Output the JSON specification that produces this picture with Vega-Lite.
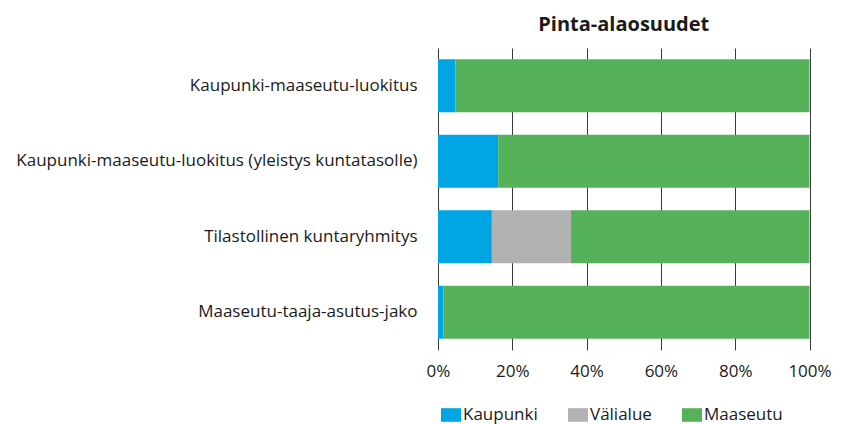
{
  "$schema": "https://vega.github.io/schema/vega-lite/v6.json",
  "autosize": "none",
  "width": 371.5,
  "height": 302,
  "padding": {"left": 438, "top": 48, "right": 39.5, "bottom": 74},
  "background": "white",
  "title": {
    "text": "Pinta-alaosuudet",
    "anchor": "middle",
    "font": "Open Sans",
    "fontSize": 20,
    "fontWeight": "bold",
    "color": "#1a1a1a",
    "offset": 13
  },
  "data": {
    "values": [
      {"luokitus": "Kaupunki-maaseutu-luokitus", "alue": "Kaupunki", "osuus": 4.7},
      {"luokitus": "Kaupunki-maaseutu-luokitus", "alue": "Välialue", "osuus": 0},
      {"luokitus": "Kaupunki-maaseutu-luokitus", "alue": "Maaseutu", "osuus": 95.3},
      {"luokitus": "Kaupunki-maaseutu-luokitus (yleistys kuntatasolle)", "alue": "Kaupunki", "osuus": 16.2},
      {"luokitus": "Kaupunki-maaseutu-luokitus (yleistys kuntatasolle)", "alue": "Välialue", "osuus": 0},
      {"luokitus": "Kaupunki-maaseutu-luokitus (yleistys kuntatasolle)", "alue": "Maaseutu", "osuus": 83.8},
      {"luokitus": "Tilastollinen kuntaryhmitys", "alue": "Kaupunki", "osuus": 14.5},
      {"luokitus": "Tilastollinen kuntaryhmitys", "alue": "Välialue", "osuus": 21.3},
      {"luokitus": "Tilastollinen kuntaryhmitys", "alue": "Maaseutu", "osuus": 64.2},
      {"luokitus": "Maaseutu-taaja-asutus-jako", "alue": "Kaupunki", "osuus": 1.5},
      {"luokitus": "Maaseutu-taaja-asutus-jako", "alue": "Välialue", "osuus": 0},
      {"luokitus": "Maaseutu-taaja-asutus-jako", "alue": "Maaseutu", "osuus": 98.5}
    ]
  },
  "transform": [
    {"calculate": "indexof(['Kaupunki', 'Välialue', 'Maaseutu'], datum.alue)", "as": "jarjestys"}
  ],
  "mark": {"type": "bar"},
  "encoding": {
    "y": {
      "field": "luokitus",
      "type": "nominal",
      "sort": null,
      "title": null,
      "scale": {"paddingInner": 0.3, "paddingOuter": 0.15},
      "axis": {
        "ticks": false,
        "domain": false,
        "labelFont": "Open Sans",
        "labelFontSize": 17,
        "labelColor": "#1a1a1a",
        "labelPadding": 21,
        "labelLimit": 500
      }
    },
    "x": {
      "field": "osuus",
      "type": "quantitative",
      "stack": "normalize",
      "title": null,
      "scale": {"domain": [0, 1], "nice": false},
      "axis": {
        "values": [0, 0.2, 0.4, 0.6, 0.8, 1],
        "format": ".0%",
        "grid": true,
        "gridColor": "#3a3a3a",
        "gridWidth": 1,
        "gridOpacity": 1,
        "ticks": false,
        "domain": false,
        "labelFlush": false,
        "labelFont": "Open Sans",
        "labelFontSize": 17,
        "labelColor": "#1a1a1a",
        "labelPadding": 13
      }
    },
    "order": {"field": "jarjestys", "type": "quantitative"},
    "color": {
      "field": "alue",
      "type": "nominal",
      "sort": ["Kaupunki", "Välialue", "Maaseutu"],
      "scale": {
        "domain": ["Kaupunki", "Välialue", "Maaseutu"],
        "range": ["#00a6e3", "#b2b2b2", "#55b25a"]
      },
      "legend": {
        "title": null,
        "orient": "none",
        "direction": "horizontal",
        "legendX": 3,
        "legendY": 357,
        "symbolType": "M-1,-0.68H1V0.68H-1Z",
        "symbolSize": 400,
        "symbolStrokeWidth": 0,
        "symbolOpacity": 1,
        "labelFont": "Open Sans",
        "labelFontSize": 17,
        "labelColor": "#1a1a1a",
        "labelOffset": 2,
        "columnPadding": 30
      }
    }
  },
  "config": {
    "view": {"stroke": null}
  }
}
